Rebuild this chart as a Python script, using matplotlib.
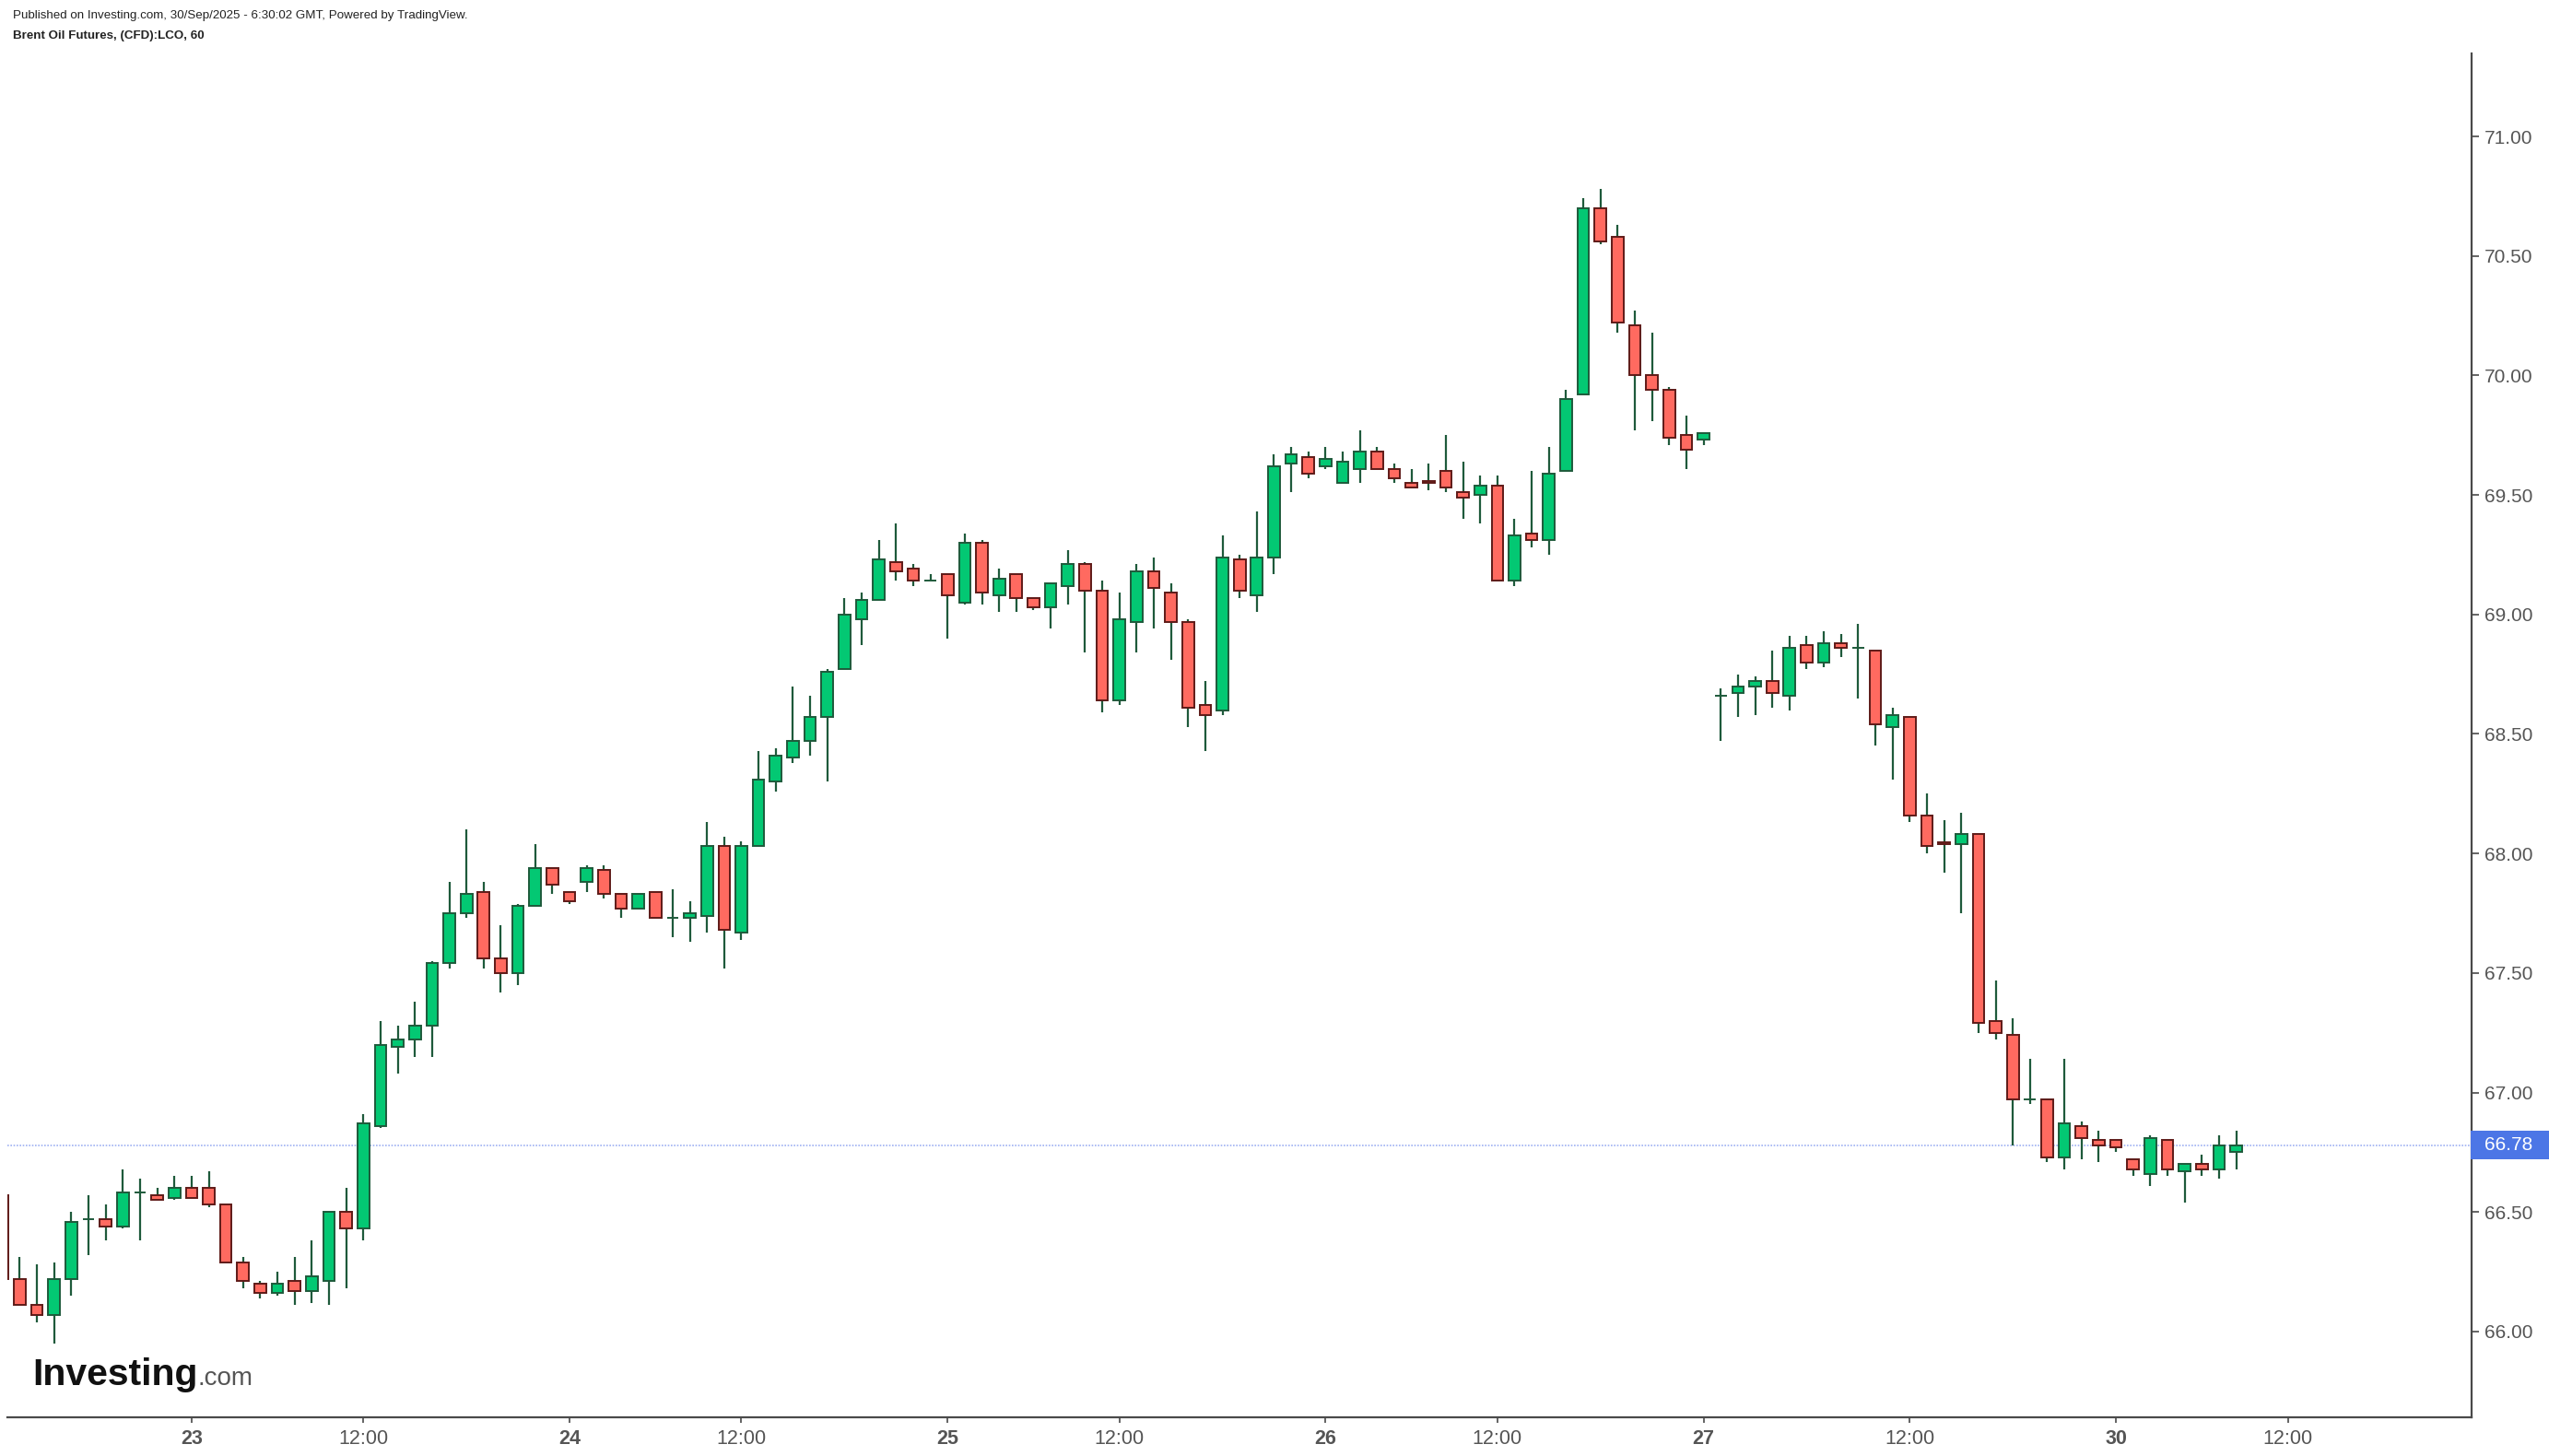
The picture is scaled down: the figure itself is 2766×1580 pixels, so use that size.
import numpy as np
import matplotlib
matplotlib.use("Agg")
import matplotlib.pyplot as plt
import matplotlib.transforms as mtransforms
from matplotlib.patches import Rectangle

# Brent Oil Futures (CFD):LCO, 1h bars, first bar sits just off the left edge
opens = [66.57, 66.22, 66.11, 66.07, 66.22, 66.47, 66.47, 66.44, 66.58, 66.57,
         66.56, 66.60, 66.60, 66.53, 66.29, 66.20, 66.16, 66.21, 66.17, 66.21,
         66.50, 66.43, 66.86, 67.19, 67.22, 67.28, 67.54, 67.75, 67.84, 67.56,
         67.50, 67.78, 67.94, 67.84, 67.88, 67.93, 67.83, 67.77, 67.84, 67.73,
         67.73, 67.74, 68.03, 67.67, 68.03, 68.30, 68.40, 68.47, 68.57, 68.77,
         68.98, 69.06, 69.22, 69.19, 69.14, 69.17, 69.05, 69.30, 69.08, 69.17,
         69.07, 69.03, 69.12, 69.21, 69.10, 68.64, 68.97, 69.18, 69.09, 68.97,
         68.62, 68.60, 69.23, 69.08, 69.24, 69.63, 69.66, 69.62, 69.55, 69.61,
         69.68, 69.61, 69.55, 69.56, 69.60, 69.51, 69.50, 69.54, 69.14, 69.34,
         69.31, 69.60, 69.92, 70.70, 70.58, 70.21, 70.00, 69.94, 69.75, 69.73,
         68.66, 68.67, 68.70, 68.72, 68.66, 68.87, 68.80, 68.88, 68.86, 68.85,
         68.53, 68.57, 68.16, 68.045, 68.04, 68.08, 67.30, 67.24, 66.97, 66.97,
         66.73, 66.86, 66.80, 66.80, 66.72, 66.66, 66.80, 66.67, 66.70, 66.68,
         66.75]
highs = [66.60, 66.31, 66.28, 66.29, 66.50, 66.57, 66.53, 66.68, 66.64, 66.60,
         66.65, 66.65, 66.67, 66.53, 66.31, 66.21, 66.25, 66.31, 66.38, 66.50,
         66.60, 66.91, 67.30, 67.28, 67.38, 67.55, 67.88, 68.10, 67.88, 67.70,
         67.79, 68.04, 67.94, 67.84, 67.95, 67.95, 67.83, 67.83, 67.84, 67.85,
         67.80, 68.13, 68.07, 68.05, 68.43, 68.44, 68.70, 68.66, 68.77, 69.07,
         69.09, 69.31, 69.38, 69.21, 69.17, 69.17, 69.34, 69.31, 69.19, 69.17,
         69.07, 69.13, 69.27, 69.22, 69.14, 69.09, 69.21, 69.24, 69.13, 68.98,
         68.72, 69.33, 69.25, 69.43, 69.67, 69.70, 69.68, 69.70, 69.68, 69.77,
         69.70, 69.63, 69.61, 69.63, 69.75, 69.64, 69.58, 69.58, 69.40, 69.60,
         69.70, 69.94, 70.74, 70.78, 70.63, 70.27, 70.18, 69.95, 69.83, 69.76,
         68.69, 68.75, 68.74, 68.85, 68.91, 68.91, 68.93, 68.92, 68.96, 68.85,
         68.61, 68.57, 68.25, 68.14, 68.17, 68.08, 67.47, 67.31, 67.14, 66.97,
         67.14, 66.88, 66.84, 66.80, 66.72, 66.82, 66.80, 66.70, 66.74, 66.82,
         66.84]
lows = [66.20, 66.11, 66.04, 65.95, 66.15, 66.32, 66.38, 66.43, 66.38, 66.55,
        66.55, 66.56, 66.52, 66.29, 66.18, 66.14, 66.15, 66.11, 66.12, 66.11,
        66.18, 66.38, 66.85, 67.08, 67.15, 67.15, 67.52, 67.73, 67.52, 67.42,
        67.45, 67.78, 67.83, 67.79, 67.84, 67.81, 67.73, 67.77, 67.73, 67.65,
        67.63, 67.67, 67.52, 67.64, 68.03, 68.26, 68.38, 68.41, 68.30, 68.77,
        68.87, 69.06, 69.14, 69.12, 69.14, 68.90, 69.04, 69.04, 69.01, 69.01,
        69.02, 68.94, 69.04, 68.84, 68.59, 68.62, 68.84, 68.94, 68.81, 68.53,
        68.43, 68.58, 69.07, 69.01, 69.17, 69.51, 69.57, 69.61, 69.55, 69.55,
        69.61, 69.55, 69.53, 69.52, 69.51, 69.40, 69.38, 69.14, 69.12, 69.28,
        69.25, 69.60, 69.92, 70.55, 70.18, 69.77, 69.81, 69.71, 69.61, 69.71,
        68.47, 68.57, 68.58, 68.61, 68.60, 68.77, 68.78, 68.82, 68.65, 68.45,
        68.31, 68.13, 68.00, 67.92, 67.75, 67.25, 67.22, 66.78, 66.95, 66.71,
        66.68, 66.72, 66.71, 66.75, 66.65, 66.61, 66.65, 66.54, 66.65, 66.64,
        66.68]
closes = [66.22, 66.11, 66.07, 66.22, 66.46, 66.47, 66.44, 66.58, 66.58, 66.55,
          66.60, 66.56, 66.53, 66.29, 66.21, 66.16, 66.20, 66.17, 66.23, 66.50,
          66.43, 66.87, 67.20, 67.22, 67.28, 67.54, 67.75, 67.83, 67.56, 67.50,
          67.78, 67.94, 67.87, 67.80, 67.94, 67.83, 67.77, 67.83, 67.73, 67.73,
          67.75, 68.03, 67.68, 68.03, 68.31, 68.41, 68.47, 68.57, 68.76, 69.00,
          69.06, 69.23, 69.18, 69.14, 69.14, 69.08, 69.30, 69.09, 69.15, 69.07,
          69.03, 69.13, 69.21, 69.10, 68.64, 68.98, 69.18, 69.11, 68.97, 68.61,
          68.58, 69.24, 69.10, 69.24, 69.62, 69.67, 69.59, 69.65, 69.64, 69.68,
          69.61, 69.57, 69.53, 69.55, 69.53, 69.49, 69.54, 69.14, 69.33, 69.31,
          69.59, 69.90, 70.70, 70.56, 70.22, 70.00, 69.94, 69.74, 69.69, 69.76,
          68.66, 68.70, 68.72, 68.67, 68.86, 68.80, 68.88, 68.86, 68.86, 68.54,
          68.58, 68.16, 68.03, 68.04, 68.08, 67.29, 67.25, 66.97, 66.97, 66.73,
          66.87, 66.81, 66.78, 66.77, 66.68, 66.81, 66.68, 66.70, 66.68, 66.78,
          66.78]

last_price = 66.78
tick_bars = [10, 20, 32, 42, 54, 64, 76, 86, 98, 110, 122, 132]
tick_labels = ["23", "12:00", "24", "12:00", "25", "12:00", "26", "12:00",
               "27", "12:00", "30", "12:00"]
price_ticks = [66.0, 66.5, 67.0, 67.5, 68.0, 68.5, 69.0, 69.5, 70.0, 70.5, 71.0]

UP_FILL = "#03c873"
UP_EDGE = "#1e5a3b"
DN_FILL = "#ff6a60"
DN_EDGE = "#5e1a18"
AXIS_COL = "#4a4a4a"
LABEL_COL = "#555555"
FONT = "Liberation Sans"

o = np.array(opens)
h = np.array(highs)
l = np.array(lows)
c = np.array(closes)
bars = np.arange(-1, len(o) - 1)
up = c >= o

W, H = 2766, 1580
fig = plt.figure(figsize=(W / 100, H / 100), dpi=100)
ax = fig.add_axes([8 / W, 42 / H, (2682 - 8) / W, (1538 - 58) / H])

# last price line
ax.axhline(last_price, color="#9fb2f2", lw=1.2, ls=(0, (1, 1)), zorder=1)

# wicks then bodies
ax.vlines(bars, l, h, color=UP_EDGE, lw=1.6, zorder=2)
ax.bar(bars[up], (c - o)[up], bottom=o[up], width=0.68,
       color=UP_FILL, edgecolor=UP_EDGE, linewidth=1.4, zorder=3)
ax.bar(bars[~up], (o - c)[~up], bottom=c[~up], width=0.68,
       color=DN_FILL, edgecolor=DN_EDGE, linewidth=1.4, zorder=3)

ax.set_xlim(-0.72, 142.7)
ax.set_ylim(65.641, 71.347)

for s in ["top", "left"]:
    ax.spines[s].set_visible(False)
for s in ["bottom", "right"]:
    ax.spines[s].set_color(AXIS_COL)
    ax.spines[s].set_linewidth(1.6)

ax.yaxis.tick_right()
ax.set_yticks(price_ticks)
ax.set_yticklabels([f"{p:.2f}" for p in price_ticks])
ax.tick_params(axis="y", length=5.8, width=1.2, color=AXIS_COL,
               labelsize=15, labelcolor=LABEL_COL, pad=4)
ax.set_xticks(tick_bars)
ax.set_xticklabels(tick_labels)
ax.tick_params(axis="x", length=4.5, width=1.2, color=AXIS_COL,
               labelsize=15.5, labelcolor=LABEL_COL, pad=5)
for lab in ax.get_xticklabels() + ax.get_yticklabels():
    lab.set_fontfamily(FONT)
for lab in ax.get_xticklabels():
    if ":" not in lab.get_text():
        lab.set_fontweight("bold")

# last price tag on the axis
tag_tr = mtransforms.blended_transform_factory(fig.transFigure, ax.transData)
ax.add_patch(Rectangle((2681 / W, last_price - 0.06), (W - 2681) / W, 0.12,
                       transform=tag_tr, facecolor="#4c76e6", edgecolor="none",
                       clip_on=False, zorder=5))
ax.text(2722 / W, last_price, f"{last_price:.2f}", transform=tag_tr,
        ha="center", va="center", fontsize=15, family=FONT, color="white",
        clip_on=False, zorder=6)

# header
fig.text(14 / W, 1 - 17 / H,
         "Published on Investing.com, 30/Sep/2025 - 6:30:02 GMT, Powered by TradingView.",
         fontsize=9.6, family=FONT, color="#222222", va="center")
fig.text(14 / W, 1 - 39 / H, "Brent Oil Futures, (CFD):LCO, 60",
         fontsize=9.6, family=FONT, fontweight="bold",
         color="#222222", va="center")

# watermark logo
t1 = fig.text(35 / W, 1 - 1503 / H, "Investing", fontsize=29.5,
              family=FONT, fontweight="bold", color="#111111",
              va="baseline")
fig.canvas.draw()
bb = t1.get_window_extent()
fig.text(bb.x1 / W, 1 - 1503 / H, ".com", fontsize=20,
         family=FONT, color="#555555", va="baseline")

fig.savefig("out.png", dpi=100, facecolor="white")
